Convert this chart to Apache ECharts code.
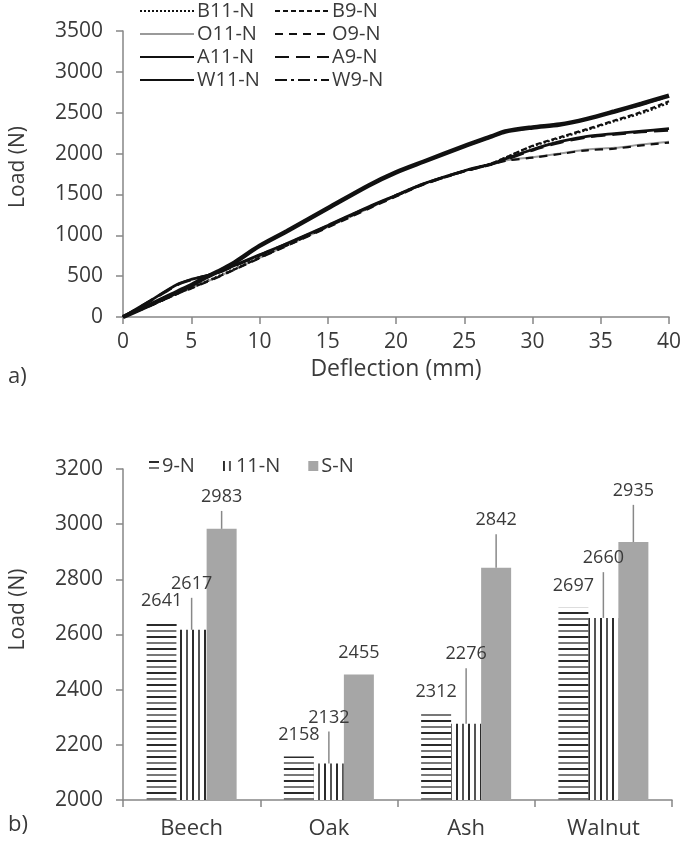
<!DOCTYPE html>
<html>
<head>
<meta charset="utf-8">
<script src="https://cdn.jsdelivr.net/npm/echarts@6/dist/echarts.min.js"></script>
<style>
  html, body { margin: 0; background: #fff; }
  #chart { width: 685px; height: 843px; }
</style>
</head>
<body>
<div id="chart"></div>
<script>
// a) load-deflection curves
var defl = [0, 2, 4, 5, 6, 7, 8, 10, 12, 15, 18, 20, 22, 25, 27, 28, 30, 32, 34, 36, 38, 40];
var loadB11 = [0, 140, 290, 360, 430, 500, 575, 730, 880, 1110, 1340, 1490, 1630, 1790, 1880, 1950, 2090, 2190, 2290, 2395, 2495, 2620];
var loadB9  = [0, 140, 285, 355, 425, 495, 570, 725, 875, 1105, 1335, 1485, 1625, 1785, 1880, 1950, 2095, 2200, 2300, 2405, 2510, 2640];
var loadO11 = [0, 140, 290, 355, 425, 495, 570, 725, 875, 1100, 1330, 1480, 1625, 1785, 1870, 1915, 1955, 2000, 2050, 2070, 2110, 2145];
var loadO9  = [0, 135, 285, 350, 420, 490, 565, 720, 870, 1095, 1325, 1475, 1620, 1780, 1865, 1910, 1950, 1995, 2040, 2060, 2100, 2135];
var loadA11 = [0, 200, 400, 460, 500, 550, 620, 760, 900, 1120, 1350, 1490, 1630, 1790, 1875, 1935, 2050, 2145, 2210, 2245, 2275, 2305];
var loadA9  = [0, 195, 395, 455, 500, 545, 615, 755, 895, 1115, 1345, 1485, 1625, 1785, 1870, 1925, 2040, 2135, 2200, 2235, 2265, 2285];
var loadW11 = [0, 150, 310, 390, 480, 560, 650, 870, 1050, 1330, 1610, 1770, 1900, 2090, 2210, 2270, 2320, 2355, 2425, 2515, 2610, 2710];
var loadW9  = [0, 150, 305, 385, 475, 555, 645, 865, 1045, 1325, 1605, 1765, 1895, 2085, 2205, 2265, 2315, 2350, 2420, 2510, 2600, 2700];

// b) maximum load per species
var species = ['Beech', 'Oak', 'Ash', 'Walnut'];
var load9  = [2641, 2158, 2312, 2697];
var load11 = [2617, 2132, 2276, 2660];
var loadS  = [2983, 2455, 2842, 2935];
var err9  = [0, 0, 0, 0];
var err11 = [116, 116, 202, 166];
var errS  = [65, 0, 121, 135];

var FONT = 'Open Sans';
var TXT = '#3a3a3a';
var AXIS = '#868686';
var BAR_W = 30;

// stripe fills for the patterned bars
function stripes(horizontal) {
  var c = document.createElement('canvas');
  c.width = horizontal ? 8 : 12;
  c.height = horizontal ? 12 : 8;
  var g = c.getContext('2d');
  g.fillStyle = '#fff';
  g.fillRect(0, 0, c.width, c.height);
  if (horizontal) {
    g.fillStyle = '#2b2b2b'; g.fillRect(0, 0, 8, 2);
    g.fillStyle = '#777';    g.fillRect(0, 6, 8, 2);
  } else {
    g.fillStyle = '#2b2b2b'; g.fillRect(0, 0, 2, 8);
    g.fillStyle = '#555';    g.fillRect(6, 0, 2, 8);
  }
  return { image: c, repeat: 'repeat' };
}

function pairs(ys) {
  return defl.map(function (x, i) { return [x, ys[i]]; });
}

function curve(name, ys, width, type, color) {
  return {
    name: name, type: 'line', xAxisIndex: 0, yAxisIndex: 0,
    data: pairs(ys), symbol: 'none', smooth: 0.3,
    lineStyle: { color: color || '#111', width: width, type: type },
    itemStyle: { color: color || '#111' }
  };
}

var barSeries = [
  { name: '9-N', vals: load9, err: err9, color: stripes(true) },
  { name: '11-N', vals: load11, err: err11, color: stripes(false) },
  { name: 'S-N', vals: loadS, err: errS, color: '#a6a6a6' }
];

var errData = [];
barSeries.forEach(function (s, k) {
  s.vals.forEach(function (v, i) { errData.push([i, v, s.err[i], k]); });
});

function plain(v) { return String(v); }
var tickFont = { color: TXT, fontFamily: FONT, fontSize: 21, formatter: plain };
var lineLegend = {
  orient: 'vertical', top: -4, itemWidth: 54, itemHeight: 14, itemGap: 3,
  itemStyle: { opacity: 0 },
  textStyle: { fontSize: 20, color: TXT, fontFamily: FONT, padding: [0, 0, 0, -2] }
};

var chart = echarts.init(document.getElementById('chart'));
chart.setOption({
  animation: false,
  textStyle: { fontFamily: FONT, color: TXT },
  grid: [
    { left: 117, top: 31, width: 552, height: 286 },
    { left: 117, top: 469, width: 555, height: 331 }
  ],
  legend: [
    Object.assign({ data: ['B11-N', 'O11-N', 'A11-N', 'W11-N'], left: 134 }, lineLegend),
    Object.assign({ data: ['B9-N', 'O9-N', 'A9-N', 'W9-N'], left: 269 }, lineLegend),
    {
      data: ['9-N', '11-N', 'S-N'],
      left: 144, top: 451, itemWidth: 10, itemHeight: 10, itemGap: 28, icon: 'rect',
      textStyle: { fontSize: 20, color: TXT, fontFamily: FONT, padding: [0, 0, 0, -2] }
    }
  ],
  xAxis: [
    {
      gridIndex: 0, type: 'value', min: 0, max: 40, interval: 5,
      name: 'Deflection (mm)', nameLocation: 'middle', nameGap: 41,
      nameTextStyle: { fontSize: 23, color: TXT, fontFamily: FONT },
      axisLine: { lineStyle: { color: AXIS, width: 1.5 } },
      axisTick: { show: true, length: 7, lineStyle: { color: AXIS, width: 1.5 } },
      axisLabel: Object.assign({ margin: 15 }, tickFont),
      splitLine: { show: false }
    },
    {
      gridIndex: 1, type: 'category', data: species,
      axisLine: { lineStyle: { color: AXIS, width: 1.5 } },
      axisTick: { show: true, length: 7, lineStyle: { color: AXIS, width: 1.5 } },
      axisLabel: { margin: 18, color: TXT, fontFamily: FONT, fontSize: 22 }
    }
  ],
  yAxis: [
    {
      gridIndex: 0, type: 'value', min: 0, max: 3500, interval: 500,
      name: 'Load (N)', nameLocation: 'middle', nameGap: 94,
      nameTextStyle: { fontSize: 21, color: TXT, fontFamily: FONT, padding: [0, 0, 0, 14] },
      axisLine: { show: true, lineStyle: { color: AXIS, width: 1.5 } },
      axisTick: { show: true, length: 7, lineStyle: { color: AXIS, width: 1.5 } },
      axisLabel: Object.assign({ margin: 20 }, tickFont),
      splitLine: { show: false }
    },
    {
      gridIndex: 1, type: 'value', min: 2000, max: 3200, interval: 200,
      name: 'Load (N)', nameLocation: 'middle', nameGap: 94,
      nameTextStyle: { fontSize: 21, color: TXT, fontFamily: FONT, padding: [0, 0, 0, 50] },
      axisLine: { show: true, lineStyle: { color: AXIS, width: 1.5 } },
      axisTick: { show: true, length: 7, lineStyle: { color: AXIS, width: 1.5 } },
      axisLabel: Object.assign({ margin: 20 }, tickFont),
      splitLine: { show: false }
    }
  ],
  graphic: [
    { type: 'text', left: 8, top: 366, style: { text: 'a)', font: '22px "Open Sans"', fill: TXT } },
    { type: 'text', left: 8, top: 814, style: { text: 'b)', font: '22px "Open Sans"', fill: TXT } }
  ],
  series: [
    curve('B11-N', loadB11, 2.2, [2, 2]),
    curve('O11-N', loadO11, 2, 'solid', '#9a9a9a'),
    curve('A11-N', loadA11, 2.8, 'solid'),
    curve('B9-N', loadB9, 2.2, [5, 3]),
    curve('O9-N', loadO9, 2.2, [8, 6]),
    curve('A9-N', loadA9, 2.8, [14, 7]),
    curve('W9-N', loadW9, 2.2, [12, 4, 3, 4]),
    curve('W11-N', loadW11, 4.5, 'solid')
  ].concat(barSeries.map(function (s) {
    return {
      name: s.name, type: 'bar', xAxisIndex: 1, yAxisIndex: 1,
      data: s.vals, barWidth: BAR_W, barGap: '0%',
      itemStyle: { color: s.color }
    };
  })).concat([{
    type: 'custom', xAxisIndex: 1, yAxisIndex: 1, data: errData, z: 5, clip: false,
    encode: { x: 0, y: 1 },
    renderItem: function (params, api) {
      var i = api.value(0), v = api.value(1), e = api.value(2), k = api.value(3);
      var base = api.coord([i, v]);
      var top = api.coord([i, v + e]);
      var x = base[0] + (k - 1) * BAR_W;
      var kids = [];
      if (e > 0) {
        kids.push({ type: 'line', shape: { x1: x, y1: base[1], x2: x, y2: top[1] },
          style: { stroke: '#888', lineWidth: 1.5 } });
      }
      kids.push({ type: 'text', x: x, y: e > 0 ? top[1] - 14 : base[1] - 22,
        style: { text: String(v), align: 'center', verticalAlign: 'middle',
          font: '18px "Open Sans"', fill: TXT } });
      return { type: 'group', children: kids };
    }
  }])
});
</script>
</body>
</html>
